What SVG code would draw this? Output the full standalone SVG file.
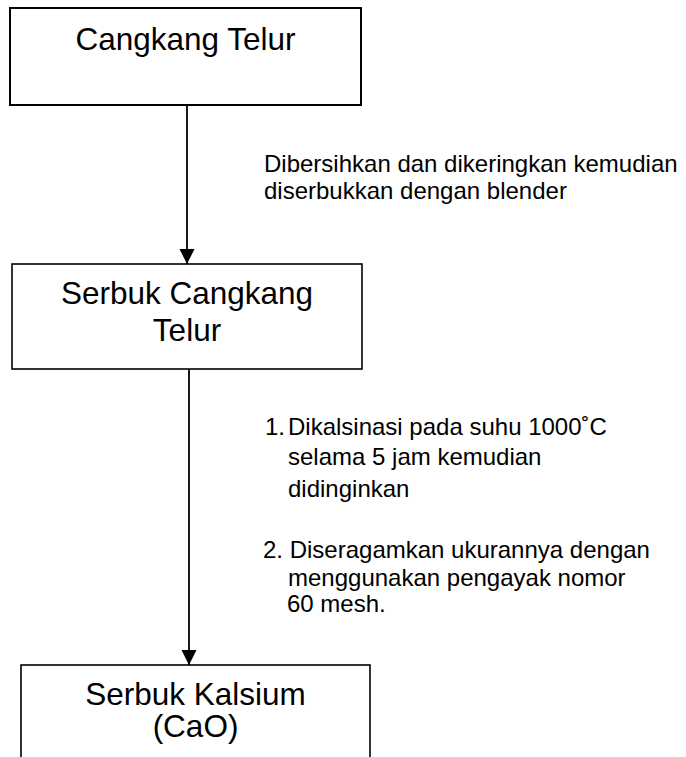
<svg xmlns="http://www.w3.org/2000/svg" width="686" height="757" viewBox="0 0 686 757">
<style>
.box{fill:#fff;stroke:#000;stroke-width:1.6}
.t{font-family:"Liberation Sans",Arial,sans-serif;font-size:31.5px;fill:#000;text-anchor:middle}
.a{font-family:"Liberation Sans",Arial,sans-serif;font-size:24px;fill:#000}
.c{stroke:#000;stroke-width:1.8;fill:none}
</style>
<defs>
<marker id="arr" markerWidth="16" markerHeight="16" refX="15" refY="8" orient="auto" markerUnits="userSpaceOnUse">
<path d="M0,0.5 L15,8 L0,15.5 Z" fill="#000"/>
</marker>
</defs>
<rect width="686" height="757" fill="#fff"/>
<g id="connectors">
<line class="c" x1="187" y1="105" x2="187" y2="264" marker-end="url(#arr)"/>
<line class="c" x1="189" y1="369" x2="189" y2="665" marker-end="url(#arr)"/>
</g>
<g id="node1">
<rect class="box" x="10" y="8" width="351" height="97" style="stroke-width:2"/>
<text class="t" x="185.5" y="50">Cangkang Telur</text>
</g>
<g id="node2">
<rect class="box" x="12" y="264" width="350" height="105"/>
<text class="t" x="187" y="304">Serbuk Cangkang</text>
<text class="t" x="187" y="341">Telur</text>
</g>
<g id="node3">
<rect class="box" x="21" y="665" width="349" height="110"/>
<text class="t" x="195.5" y="705">Serbuk Kalsium</text>
<text class="t" x="195.5" y="737">(CaO)</text>
</g>
<g id="label1">
<text class="a" x="264" y="172">Dibersihkan dan dikeringkan kemudian</text>
<text class="a" x="264" y="199">diserbukkan dengan blender</text>
</g>
<g id="label2">
<text class="a" x="265" y="435">1.</text>
<text class="a" x="288" y="435">Dikalsinasi pada suhu 1000˚C</text>
<text class="a" x="288" y="465">selama 5 jam kemudian</text>
<text class="a" x="288" y="497">didinginkan</text>
<text class="a" x="263" y="558">2. Diseragamkan ukurannya dengan</text>
<text class="a" x="288" y="586">menggunakan pengayak nomor</text>
<text class="a" x="287" y="612">60 mesh.</text>
</g>
</svg>
